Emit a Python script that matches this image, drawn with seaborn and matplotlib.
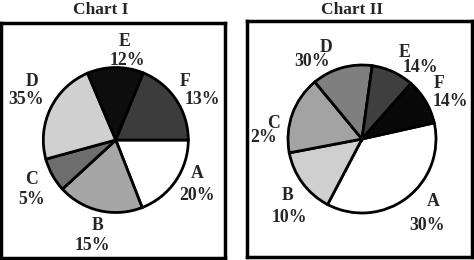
import matplotlib
matplotlib.use("Agg")
import matplotlib.pyplot as plt
import seaborn as sns

# ---- data ----
categories = ["A", "B", "C", "D", "E", "F"]
chart1_labels = ["20%", "15%", "5%", "35%", "12%", "13%"]
chart2_labels = ["30%", "10%", "2%", "30%", "14%", "14%"]
# slice sizes as drawn in the picture (percent of the circle)
chart1_sizes = [19.1, 19.1, 7.6, 22.9, 12.6, 18.8]
chart2_sizes = [36.2, 14.3, 17.0, 13.2, 9.3, 10.0]

# ---- styles / layout ----
chart1_colors = ["#ffffff", "#a6a6a6", "#6e6e6e", "#d0d0d0", "#0d0d0d", "#3c3c3c"]
chart2_colors = ["#ffffff", "#cfcfcf", "#a3a3a3", "#7f7f7f", "#3f3f3f", "#080808"]

W, H = 474, 260
sns.set_theme(style="white")
plt.rcParams["font.family"] = ["Liberation Serif", "DejaVu Serif"]

fig = plt.figure(figsize=(W / 100, H / 100), dpi=100)
fig.patch.set_facecolor("white")


def fx(x):
    return x / W


def fy(y):
    return 1 - y / H


def box(x0, y0, x1, y1):
    ax = fig.add_axes([fx(x0), fy(y1), fx(x1 - x0), (y1 - y0) / H], zorder=0)
    ax.set_xticks([])
    ax.set_yticks([])
    ax.set_facecolor("white")
    for s in ax.spines.values():
        s.set_visible(True)
        s.set_color("black")
        s.set_linewidth(2.5)
    return ax


def pie(cx, cy, r, sizes, colors, start):
    ax = fig.add_axes([fx(cx - r), fy(cy + r), 2 * r / W, 2 * r / H], zorder=2)
    ax.pie(sizes, colors=colors, startangle=start, counterclock=False,
           radius=1, wedgeprops=dict(edgecolor="black", linewidth=2.0))
    ax.set_xlim(-1, 1)
    ax.set_ylim(-1, 1)
    ax.set_aspect("equal", adjustable="box")
    ax.axis("off")
    for p in ax.patches:
        p.set_clip_on(False)
    return ax


box(1, 23, 225, 258)
box(247, 21, 472, 257)

pie(115.8, 140, 72.5, chart1_sizes, chart1_colors, 0)
pie(362, 139, 74, chart2_sizes, chart2_colors, 12.6)

fig.text(fx(101), fy(10), "Chart I", ha="center", va="center",
         fontsize=12.5, fontweight="bold")
fig.text(fx(352), fy(10), "Chart II", ha="center", va="center",
         fontsize=12.5, fontweight="bold")

# label positions (pixels): letter xy, percent xy
pos1 = [((197, 174), (197, 195)), ((98, 225), (92, 245)), ((32, 180), (32, 199)),
        ((32, 82), (26, 100)), ((125, 42), (127, 60)), ((185, 82), (202, 100))]
pos2 = [((433, 202), (427, 225)), ((288, 195), (289, 217)), ((274, 123), (264, 138)),
        ((326, 48), (312, 61)), ((405, 53), (420, 68)), ((439, 84), (450, 101))]

LS = 12.8
for cat, lab, (p1, p2) in zip(categories, chart1_labels, pos1):
    fig.text(fx(p1[0]), fy(p1[1]), cat, ha="center", va="center", fontsize=LS, fontweight="bold", zorder=5)
    fig.text(fx(p2[0]), fy(p2[1]), lab, ha="center", va="center", fontsize=LS, fontweight="bold", zorder=5)
for cat, lab, (p1, p2) in zip(categories, chart2_labels, pos2):
    fig.text(fx(p1[0]), fy(p1[1]), cat, ha="center", va="center", fontsize=LS, fontweight="bold", zorder=5)
    fig.text(fx(p2[0]), fy(p2[1]), lab, ha="center", va="center", fontsize=LS, fontweight="bold", zorder=5)

fig.savefig("out.png", dpi=100, facecolor="white")
